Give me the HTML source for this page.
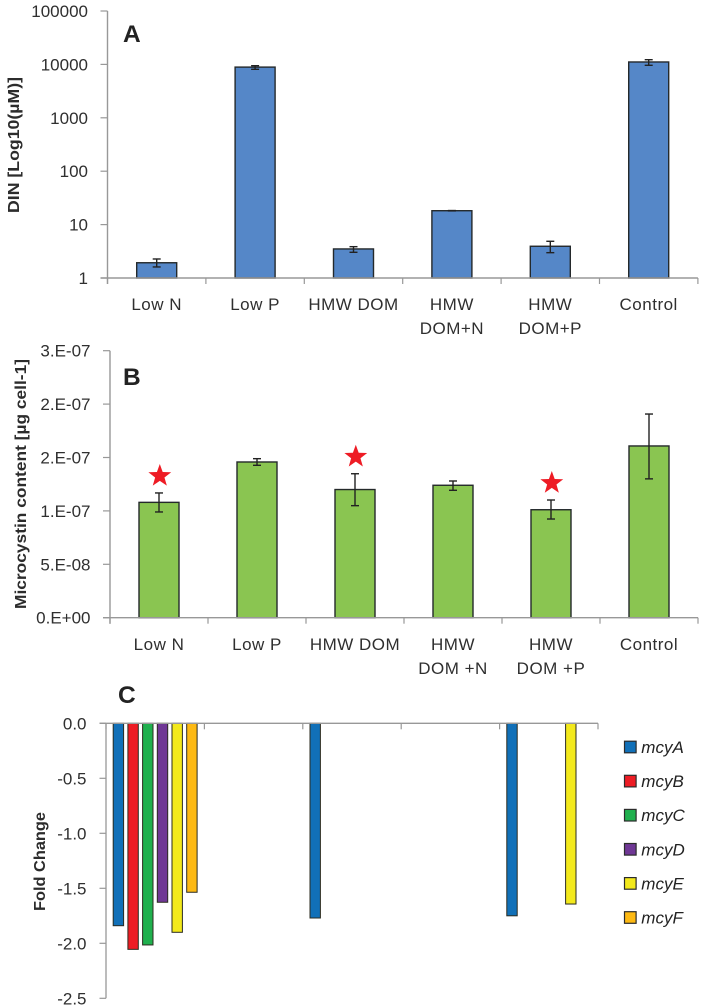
<!DOCTYPE html>
<html lang="en">
<head>
<meta charset="utf-8">
<title>DIN, Microcystin content and mcy gene fold change</title>
<style>
html,body{margin:0;padding:0;background:#fff;}
svg{display:block;font-family:"Liberation Sans",sans-serif;}
.tick{font-size:17px;fill:#2f2f2f;}
.cat{font-size:17px;fill:#2f2f2f;letter-spacing:.5px;}
.title{font-size:15.5px;font-weight:bold;fill:#2c2c2c;}
.panel{font-size:24.5px;font-weight:bold;fill:#222;}
.leg{font-size:17px;font-style:italic;fill:#222;}
</style>
</head>
<body>
<svg id="fig" width="703" height="1008" viewBox="0 0 703 1008" xmlns="http://www.w3.org/2000/svg">
  <rect width="703" height="1008" fill="#fff"/>
  <text class="panel" x="123" y="42">A</text>
  <text class="panel" x="123" y="385">B</text>
  <text class="panel" x="118" y="703">C</text>
  <text class="title" transform="translate(19,145) rotate(-90)" text-anchor="middle" textLength="136" lengthAdjust="spacingAndGlyphs">DIN [Log10(µM)]</text>
  <text class="title" transform="translate(26,484) rotate(-90)" text-anchor="middle" textLength="250" lengthAdjust="spacingAndGlyphs">Microcystin content [µg cell-1]</text>
  <text class="title" transform="translate(45,861.5) rotate(-90)" text-anchor="middle" textLength="99" lengthAdjust="spacingAndGlyphs">Fold Change</text>
</svg>
<script>
// Panel A data
const categoriesA = [["Low N"],["Low P"],["HMW DOM"],["HMW","DOM+N"],["HMW","DOM+P"],["Control"]];
const valuesA = [1.93, 8900, 3.5, 18.2, 3.93, 11100];
const errHighA = [2.27, 9460, 3.86, 18.35, 4.87, 12250];
const errLowA = [1.61, 8090, 3.03, 18.05, 2.98, 9620];
const tickValuesA = [1, 10, 100, 1000, 10000, 100000];
const tickLabelsA = ["1","10","100","1000","10000","100000"];

// Panel B data
const categoriesB = [["Low N"],["Low P"],["HMW DOM"],["HMW","DOM +N"],["HMW","DOM +P"],["Control"]];
const valuesB = [1.08e-7, 1.458e-7, 1.2e-7, 1.24e-7, 1.011e-7, 1.608e-7];
const errHighB = [1.168e-7, 1.489e-7, 1.348e-7, 1.28e-7, 1.102e-7, 1.907e-7];
const errLowB = [0.99e-7, 1.427e-7, 1.049e-7, 1.193e-7, 0.924e-7, 1.30e-7];
const significantB = [0, 2, 4];
const tickValuesB = [0, 5e-8, 1e-7, 1.5e-7, 2e-7, 2.5e-7];
const tickLabelsB = ["0.E+00","5.E-08","1.E-07","2.E-07","2.E-07","3.E-07"];

// Panel C data
const seriesNamesC = ["mcyA","mcyB","mcyC","mcyD","mcyE","mcyF"];
const mcyA = [-1.84, null, -1.77, null, -1.75];
const mcyB = [-2.055, null, null, null, null];
const mcyC = [-2.015, null, null, null, null];
const mcyD = [-1.627, null, null, null, null];
const mcyE = [-1.9, null, null, null, -1.643];
const mcyF = [-1.536, null, null, null, null];
const tickValuesC = [0, -0.5, -1, -1.5, -2, -2.5];
const tickLabelsC = ["0.0","-0.5","-1.0","-1.5","-2.0","-2.5"];

const seriesC = [mcyA, mcyB, mcyC, mcyD, mcyE, mcyF];
const colorsC = ["#1170b8","#ed1c24","#20b04e","#6f3795","#f3e91c","#fdb913"];

const NS = "http://www.w3.org/2000/svg";
const svg = document.getElementById("fig");
const AXIS = "#989898";
const EDGE = "#24292b";

function mk(tag, attrs){
  const el = document.createElementNS(NS, tag);
  for (const k in attrs) el.setAttribute(k, attrs[k]);
  svg.appendChild(el);
  return el;
}
function line(x1, y1, x2, y2, stroke, width){
  return mk("line", {x1:x1, y1:y1, x2:x2, y2:y2, stroke:stroke, "stroke-width":width});
}

// Axis functions
const yA = v => 278 - (Math.log10(v)) * 53.4;
const xA = i => 107.5 + 98.4 * i;
const yB = v => 617.7 - (v / 2.5e-7) * 267;
const xB = i => 110 + 98 * i;
const yC = v => 723.3 - v * 110;
const xC = i => 106 + 98.4 * i;

function drawPanel(key, cats, vals, hi, lo, tickVals, tickLabels, x, y, fill, labelRight, barWidth, catBase){
  vals.forEach((v, i) => {
    const cx = (x(i) + x(i + 1)) / 2;
    const bar = mk("rect", {x:cx - barWidth / 2, y:y(v), width:barWidth, height:y(tickVals[0]) - y(v), fill:fill, stroke:EDGE, "stroke-width":1.4});
    
    
  });
  const baseY = y(tickVals[0]);
  const xAxis = line(x(0) - 7, baseY, x(cats.length), baseY, AXIS, 1.4);
  
  
  const yAxis = line(x(0), y(tickVals[tickVals.length - 1]), x(0), baseY + 6, AXIS, 1.4);
  
  
  for (let i = 0; i <= cats.length; i++) {
    const t = line(x(i), baseY, x(i), baseY + 6, AXIS, 1.2);
    
    
  }
  tickVals.forEach((tv, i) => {
    const t = line(x(0) - 7, y(tv), x(0), y(tv), AXIS, 1.2);
    
    
    const lab = mk("text", {x:labelRight, y:y(tv) + 6, "text-anchor":"end", class:"tick"});
    lab.textContent = tickLabels[i];
    
    
  });
  vals.forEach((v, i) => {
    const cx = (x(i) + x(i + 1)) / 2;
    const g1 = line(cx, y(hi[i]), cx, y(lo[i]), "#222", 1.4);
    
    
    const g2 = line(cx - 4, y(hi[i]), cx + 4, y(hi[i]), "#222", 1.4);
    
    
    const g3 = line(cx - 4, y(lo[i]), cx + 4, y(lo[i]), "#222", 1.4);
    
    
    cats[i].forEach((s, j) => {
      const lab = mk("text", {x:cx, y:catBase + j * 24, "text-anchor":"middle", class:"cat"});
      lab.textContent = s;
      
      
    });
  });
}

drawPanel("a", categoriesA, valuesA, errHighA, errLowA, tickValuesA, tickLabelsA, xA, yA, "#5587c8", 88, 40, 310);
drawPanel("b", categoriesB, valuesB, errHighB, errLowB, tickValuesB, tickLabelsB, xB, yB, "#8ac551", 90.5, 40, 650);

// Significance stars
significantB.forEach(i => {
  const cx = (xB(i) + xB(i + 1)) / 2 + 0.8;
  const cy = yB(errHighB[i]) - 17;
  const pts = [];
  for (let k = 0; k < 10; k++) {
    const r = k % 2 ? 4.9 : 12;
    const a = -Math.PI / 2 + k * Math.PI / 5;
    pts.push((cx + r * Math.cos(a)).toFixed(2) + "," + (cy + r * Math.sin(a)).toFixed(2));
  }
  const star = mk("polygon", {points:pts.join(" "), fill:"#ee1c25"});
  
  
});

// Panel C
seriesC.forEach((arr, s) => {
  arr.forEach((v, c) => {
    if (v === null) return;
    const bar = mk("rect", {x:xC(c) + 7.2 + 14.7 * s, y:yC(0), width:10.4, height:yC(v) - yC(0), fill:colorsC[s], stroke:"#2b2b1f", "stroke-width":1});
    
    
  });
});
const xAxisC = line(99.5, yC(0), xC(5), yC(0), AXIS, 1.3);


const yAxisC = line(xC(0), yC(0), xC(0), yC(-2.5), AXIS, 1.3);


for (let i = 0; i <= 5; i++) {
  const t = line(xC(i), yC(0), xC(i), yC(0) + 6, AXIS, 1.2);
  
  
}
tickValuesC.forEach((tv, i) => {
  const t = line(99.5, yC(tv), xC(0), yC(tv), AXIS, 1.2);
  
  
  const lab = mk("text", {x:86.5, y:yC(tv) + 6, "text-anchor":"end", class:"tick"});
  lab.textContent = tickLabelsC[i];
  
  
});

// Legend
seriesNamesC.forEach((name, s) => {
  const cy = 747 + 34.1 * s;
  const sw = mk("rect", {x:624.5, y:cy - 5.8, width:11.6, height:11.6, fill:colorsC[s], stroke:"#2b2b2b", "stroke-width":1.2});
  
  
  const lab = mk("text", {x:641.3, y:cy + 6, class:"leg"});
  lab.textContent = name;
  
  
});
</script>
</body>
</html>
